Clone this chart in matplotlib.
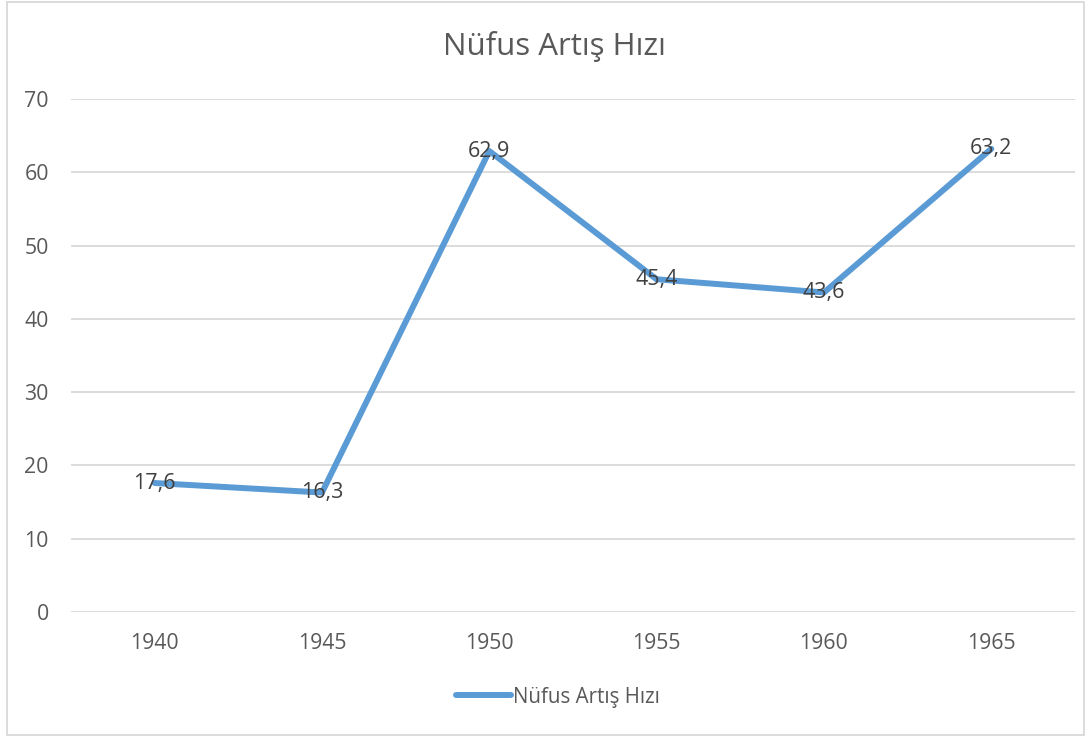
import matplotlib.pyplot as plt
from matplotlib.patches import Rectangle

years = ["1940", "1945", "1950", "1955", "1960", "1965"]
values = [17.6, 16.3, 62.9, 45.4, 43.6, 63.2]
labels = ["17,6", "16,3", "62,9", "45,4", "43,6", "63,2"]
yticks = [0, 10, 20, 30, 40, 50, 60, 70]

plt.rcParams['font.family'] = ['Open Sans', 'DejaVu Sans']
text_color = '#595959'
line_color = '#5B9BD5'

fig = plt.figure(figsize=(10.91, 7.37), dpi=100)
ax = fig.add_axes([71 / 1091, 1 - 612 / 737, (1075 - 71) / 1091, (612 - 99) / 737])

x = list(range(len(years)))
ax.plot(x, values, color=line_color, linewidth=4.3, solid_capstyle='round',
        solid_joinstyle='round', label="Nüfus Artış Hızı", zorder=3)
for xi, v, lab in zip(x, values, labels):
    ax.text(xi, v, lab, ha='center', va='center', fontsize=15.5, color='#404040', zorder=4)

ax.set_xlim(-0.5, len(years) - 0.5)
ax.set_ylim(0, 70)
ax.set_xticks(x)
ax.set_xticklabels(years)
ax.set_yticks(yticks)
ax.tick_params(length=0, labelsize=15.3, labelcolor=text_color)
ax.tick_params(axis='x', pad=15)
ax.tick_params(axis='y', pad=16)
ax.grid(axis='y', color='#D9D9D9', linewidth=1.3)
ax.set_axisbelow(True)
for s in ax.spines.values():
    s.set_visible(False)

fig.text(554 / 1091, 1 - 47 / 737, "Nüfus Artış Hızı", ha='center', va='center',
         fontsize=22.5, color=text_color)

# legend sits a little left of the axes centre, as in the original
leg = ax.legend(loc='center', bbox_to_anchor=((558 - 71) / (1075 - 71), (612 - 697) / (612 - 99)),
                frameon=False, fontsize=14.8, handlelength=2.7, handletextpad=0.1)
for t in leg.get_texts():
    t.set_color(text_color)

fig.patches.append(Rectangle((7 / 1091, 2 / 737), 1077 / 1091, 733 / 737,
                             transform=fig.transFigure, fill=False,
                             edgecolor='#D9D9D9', linewidth=1.3))

fig.savefig('out.png', dpi=100)
